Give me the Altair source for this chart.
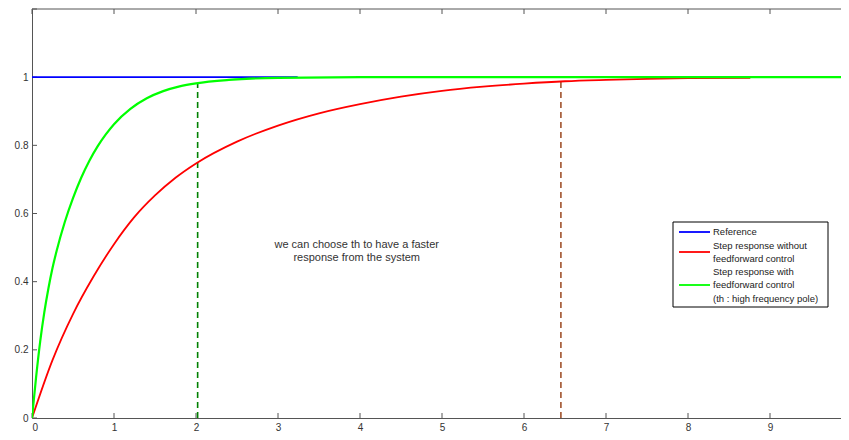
import altair as alt
import pandas as pd

# ---- data ----
ref_t = [0, 3.24]
ref_y = [1, 1]

red_t = [0, 0.25, 0.5, 0.75, 1.0, 1.25, 1.5, 1.75, 2.0, 2.5, 3.0, 3.5, 4.0, 4.5, 5.0, 5.5,
         6.0, 6.5, 7.0, 7.5, 8.0, 8.76]
red_y = [0, 0.17, 0.305, 0.415, 0.51, 0.59, 0.653, 0.705, 0.747, 0.811, 0.858, 0.894, 0.921,
         0.943, 0.96, 0.972, 0.981, 0.988, 0.992, 0.995, 0.997, 0.998]

green_t = [0, 0.05, 0.1, 0.15, 0.2, 0.25, 0.3, 0.4, 0.5, 0.6, 0.7, 0.8, 0.9, 1.0, 1.2, 1.4,
           1.6, 1.8, 2.0, 2.4, 3.0, 4, 6, 8, 10]
green_y = [0, 0.12, 0.225, 0.31, 0.38, 0.44, 0.49, 0.575, 0.645, 0.705, 0.755, 0.797, 0.832,
           0.862, 0.907, 0.938, 0.959, 0.973, 0.982, 0.992, 0.998, 1, 1, 1, 1]

gdash_t = [2.02, 2.02]
gdash_y = [0, 0.983]
bdash_t = [6.45, 6.45]
bdash_y = [0, 0.99]

x_ticks = [0, 1, 2, 3, 4, 5, 6, 7, 8, 9]
y_ticks = [0, 0.2, 0.4, 0.6, 0.8, 1.0, 1.2]
y_labels = [0, 0.2, 0.4, 0.6, 0.8, 1.0]

note_lines = ["we can choose th to have a faster", "response from the system"]
legend_labels = ["Reference", "Step response without", "feedforward control",
                 "Step response with", "feedforward control", "(th : high frequency pole)"]

W = 809
H = 409
XMAX = W / 82.0
YMAX = 1.2
FONT = "Liberation Sans"

xs = alt.Scale(domain=[0, XMAX], nice=False, zero=False)
ys = alt.Scale(domain=[0, YMAX], nice=False, zero=False)
pix = alt.Scale(domain=[0, H], range=[0, H])

AXC = "#555555"


def line(t, y, color, width=1.6, dash=None, interp="monotone"):
    df = pd.DataFrame({"t": t, "y": y})
    kw = dict(color=color, strokeWidth=width, clip=True, interpolate=interp)
    if dash:
        kw["strokeDash"] = dash
    return alt.Chart(df).mark_line(**kw).encode(
        x=alt.X("t:Q", scale=xs, axis=None),
        y=alt.Y("y:Q", scale=ys, axis=None),
    )


# axes (labels + domain)
axes_df = pd.DataFrame({"t": [0], "y": [0]})
axes = alt.Chart(axes_df).mark_point(opacity=0).encode(
    x=alt.X("t:Q", scale=xs, title=None,
            axis=alt.Axis(values=x_ticks, ticks=False, grid=False, domainColor=AXC,
                          labelFont=FONT, labelFontSize=10, labelColor="#333333",
                          labelPadding=4, format="d")),
    y=alt.Y("y:Q", scale=ys, title=None,
            axis=alt.Axis(values=y_labels, ticks=False, grid=False, domainColor=AXC,
                          labelFont=FONT, labelFontSize=10, labelColor="#333333",
                          labelPadding=4, format=".1~f")),
)

# top border
top_border = alt.Chart(pd.DataFrame({"a": [0], "b": [XMAX], "y": [YMAX]})).mark_rule(
    color=AXC, strokeWidth=1).encode(
    x=alt.X("a:Q", scale=xs, axis=None), x2="b:Q", y=alt.Y("y:Q", scale=ys, axis=None))

# inward ticks
xt_df = pd.DataFrame({"t": x_ticks})
xt_bottom = alt.Chart(xt_df).mark_rule(color=AXC, strokeWidth=1).encode(
    x=alt.X("t:Q", scale=xs, axis=None),
    y=alt.value(H), y2=alt.value(H - 5))
xt_top = alt.Chart(xt_df).mark_rule(color=AXC, strokeWidth=1).encode(
    x=alt.X("t:Q", scale=xs, axis=None),
    y=alt.value(0), y2=alt.value(5))
yt_df = pd.DataFrame({"y": y_ticks})
yt_left = alt.Chart(yt_df).mark_rule(color=AXC, strokeWidth=1).encode(
    y=alt.Y("y:Q", scale=ys, axis=None),
    x=alt.value(0), x2=alt.value(5))

# series
blue = line(ref_t, ref_y, "#0000ff", 1.8, interp="linear")
red = line(red_t, red_y, "#ff0000", 1.8)
green = line(green_t, green_y, "#00ff00", 2.2)
gdash = line(gdash_t, gdash_y, "#008000", 1.6, [6, 4], interp="linear")
bdash = line(bdash_t, bdash_y, "#a0522d", 1.6, [6, 4], interp="linear")

# annotation
note_df = pd.DataFrame({"t": [3.96, 3.96], "y": [0.508, 0.468], "txt": note_lines})
note = alt.Chart(note_df).mark_text(font=FONT, fontSize=11, color="#333333",
                                    align="center", baseline="middle").encode(
    x=alt.X("t:Q", scale=xs, axis=None), y=alt.Y("y:Q", scale=ys, axis=None), text="txt:N")

# legend (drawn manually)
leg_box = alt.Chart(axes_df).mark_rect(fill="white", stroke="#000000", strokeWidth=1).encode(
    x=alt.value(641), x2=alt.value(796), y=alt.value(213), y2=alt.value(298))
leg_lines_df = pd.DataFrame({"c": ["#0000ff", "#ff0000", "#00ff00"],
                             "py": [223, 243, 276]})
leg_lines = alt.Chart(leg_lines_df).mark_rule(strokeWidth=1.8).encode(
    x=alt.value(647), x2=alt.value(678),
    y=alt.Y("py:Q", scale=pix, axis=None),
    color=alt.Color("c:N", scale=None))
leg_text_df = pd.DataFrame({"txt": legend_labels, "py": [223, 237, 250, 263, 276, 290]})
leg_text = alt.Chart(leg_text_df).mark_text(font=FONT, fontSize=9.5, color="#222222",
                                            align="left", baseline="middle").encode(
    x=alt.value(681),
    y=alt.Y("py:Q", scale=pix, axis=None),
    text="txt:N")

chart = alt.layer(
    top_border, xt_bottom, xt_top, yt_left,
    bdash, gdash, blue, red, green,
    note, leg_box, leg_lines, leg_text, axes,
).resolve_scale(x="independent", y="independent").properties(
    width=W, height=H,
    autosize=alt.AutoSizeParams(type="none"),
    padding={"left": 24, "top": 1, "right": 0, "bottom": 22},
    background="white",
).configure_view(stroke=None)

chart.save("out.html", embed_options={"renderer": "svg", "actions": False})
